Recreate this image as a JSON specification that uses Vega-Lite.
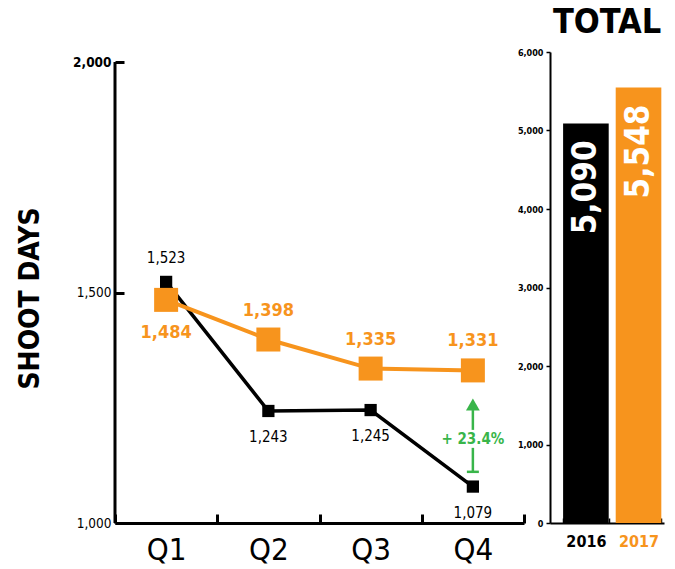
{
  "$schema": "https://vega.github.io/schema/vega-lite/v6.json",
  "background": "white",
  "padding": {"left": 16, "top": 6, "right": 5, "bottom": 5},
  "bounds": "flush",
  "spacing": 26,
  "config": {
    "view": {"stroke": null},
    "font": "DejaVu Sans Condensed, Roboto, sans-serif",
    "axis": {"grid": false, "domainColor": "black", "tickColor": "black", "labelColor": "black", "titleColor": "black", "labelFont": "DejaVu Sans Condensed, Roboto, sans-serif", "titleFont": "DejaVu Sans Condensed, Roboto, sans-serif"},
    "title": {"font": "DejaVu Sans Condensed, Roboto, sans-serif"}
  },
  "datasets": {
    "quarters": [
      {"q": "Q1", "year": "2016", "days": 1523},
      {"q": "Q2", "year": "2016", "days": 1243},
      {"q": "Q3", "year": "2016", "days": 1245},
      {"q": "Q4", "year": "2016", "days": 1079},
      {"q": "Q1", "year": "2017", "days": 1484},
      {"q": "Q2", "year": "2017", "days": 1398},
      {"q": "Q3", "year": "2017", "days": 1335},
      {"q": "Q4", "year": "2017", "days": 1331}
    ],
    "totals": [
      {"year": "2016", "total": 5090},
      {"year": "2017", "total": 5548}
    ],
    "axisline": [{"q": "Q1", "lo": 1000, "hi": 2000}],
    "segments": [
      {"q": "Q4", "from": 1111, "to": 1163},
      {"q": "Q4", "from": 1202, "to": 1245}
    ],
    "tbar": [{"q": "Q4", "v": 1111}],
    "arrow": [{"q": "Q4", "v": 1257}],
    "note": [{"q": "Q4", "v": 1182, "label": "+ 23.4%"}]
  },
  "hconcat": [
    {
      "width": 409,
      "height": 471,
      "layer": [
        {
          "data": {"name": "axisline"},
          "mark": {"type": "rule", "color": "black", "strokeWidth": 3},
          "encoding": {
            "x": {"field": "q", "type": "nominal", "bandPosition": 0},
            "y": {"field": "lo", "type": "quantitative"},
            "y2": {"field": "hi"}
          }
        },
        {
          "data": {"name": "quarters"},
          "transform": [{"filter": "datum.year == '2016'"}],
          "mark": {"type": "line", "color": "black", "strokeWidth": 3.5},
          "encoding": {
            "x": {"field": "q", "type": "nominal"},
            "y": {"field": "days", "type": "quantitative"}
          }
        },
        {
          "data": {"name": "quarters"},
          "transform": [{"filter": "datum.year == '2016'"}],
          "mark": {"type": "point", "shape": "square", "filled": true, "opacity": 1, "color": "black", "size": 150},
          "encoding": {
            "x": {"field": "q", "type": "nominal"},
            "y": {"field": "days", "type": "quantitative"}
          }
        },
        {
          "data": {"name": "quarters"},
          "transform": [{"filter": "datum.year == '2017'"}],
          "mark": {"type": "line", "color": "#F7941D", "strokeWidth": 4},
          "encoding": {
            "x": {"field": "q", "type": "nominal"},
            "y": {"field": "days", "type": "quantitative"}
          }
        },
        {
          "data": {"name": "quarters"},
          "transform": [{"filter": "datum.year == '2017'"}],
          "mark": {"type": "point", "shape": "square", "filled": true, "opacity": 1, "color": "#F7941D", "size": 576},
          "encoding": {
            "x": {"field": "q", "type": "nominal"},
            "y": {"field": "days", "type": "quantitative"}
          }
        },
        {
          "data": {"name": "quarters"},
          "transform": [{"filter": "datum.year == '2016' && datum.q == 'Q1'"}],
          "mark": {"type": "text", "fontSize": 15, "color": "black", "dy": -24, "baseline": "middle"},
          "encoding": {
            "x": {"field": "q", "type": "nominal"},
            "y": {"field": "days", "type": "quantitative"},
            "text": {"field": "days", "format": ",.0f"}
          }
        },
        {
          "data": {"name": "quarters"},
          "transform": [{"filter": "datum.year == '2016' && datum.q != 'Q1'"}],
          "mark": {"type": "text", "fontSize": 15, "color": "black", "dy": 26, "baseline": "middle"},
          "encoding": {
            "x": {"field": "q", "type": "nominal"},
            "y": {"field": "days", "type": "quantitative"},
            "text": {"field": "days", "format": ",.0f"}
          }
        },
        {
          "data": {"name": "quarters"},
          "transform": [{"filter": "datum.year == '2017' && datum.q == 'Q1'"}],
          "mark": {"type": "text", "fontSize": 18, "fontWeight": "bold", "color": "#F7941D", "dy": 33, "baseline": "middle"},
          "encoding": {
            "x": {"field": "q", "type": "nominal"},
            "y": {"field": "days", "type": "quantitative"},
            "text": {"field": "days", "format": ",.0f"}
          }
        },
        {
          "data": {"name": "quarters"},
          "transform": [{"filter": "datum.year == '2017' && datum.q != 'Q1'"}],
          "mark": {"type": "text", "fontSize": 18, "fontWeight": "bold", "color": "#F7941D", "dy": -29, "baseline": "middle"},
          "encoding": {
            "x": {"field": "q", "type": "nominal"},
            "y": {"field": "days", "type": "quantitative"},
            "text": {"field": "days", "format": ",.0f"}
          }
        },
        {
          "data": {"name": "segments"},
          "mark": {"type": "rule", "color": "#39B54A", "strokeWidth": 2.5},
          "encoding": {
            "x": {"field": "q", "type": "nominal"},
            "y": {"field": "from", "type": "quantitative"},
            "y2": {"field": "to"}
          }
        },
        {
          "data": {"name": "tbar"},
          "mark": {"type": "tick", "color": "#39B54A", "size": 12, "thickness": 2.5, "orient": "horizontal", "opacity": 1},
          "encoding": {
            "x": {"field": "q", "type": "nominal"},
            "y": {"field": "v", "type": "quantitative"}
          }
        },
        {
          "data": {"name": "arrow"},
          "mark": {"type": "point", "shape": "triangle-up", "filled": true, "opacity": 1, "color": "#39B54A", "size": 190},
          "encoding": {
            "x": {"field": "q", "type": "nominal"},
            "y": {"field": "v", "type": "quantitative"}
          }
        },
        {
          "data": {"name": "note"},
          "mark": {"type": "text", "fontSize": 15, "fontWeight": "bold", "color": "#39B54A", "baseline": "middle"},
          "encoding": {
            "x": {"field": "q", "type": "nominal"},
            "y": {"field": "v", "type": "quantitative"},
            "text": {"field": "label"}
          }
        }
      ],
      "resolve": {"scale": {"x": "shared", "y": "shared"}},
      "encoding": {
        "x": {
          "field": "q",
          "type": "nominal",
          "scale": {"type": "band", "domain": ["Q1", "Q2", "Q3", "Q4"], "paddingInner": 0, "paddingOuter": 0},
          "axis": {
            "title": null,
            "labelAngle": 0,
            "labelFontSize": 31,
            "labelPadding": 21,
            "domainWidth": 3,
            "tickWidth": 3,
            "tickSize": -9,
            "tickBand": "extent"
          }
        },
        "y": {
          "field": "days",
          "type": "quantitative",
          "scale": {"domain": [1000, 2021.7], "nice": false, "zero": false},
          "axis": {
            "values": [1000, 1500, 2000],
            "format": ",.0f",
            "domain": false,
            "title": "SHOOT DAYS",
            "titleFontSize": 28,
            "titleFontWeight": "bold",
            "titlePadding": 28,
            "titleY": 246,
            "labelFontSize": 13.5,
            "labelFontWeight": {"condition": {"test": "datum.value == 2000", "value": "bold"}, "value": "normal"},
            "labelPadding": 13,
            "tickSize": -9,
            "tickWidth": 3
          }
        }
      }
    },
    {
      "width": 114,
      "height": 471,
      "title": {"text": "TOTAL", "fontSize": 34, "fontWeight": "bold", "anchor": "middle", "offset": 8, "color": "black"},
      "data": {"name": "totals"},
      "encoding": {
        "x": {
          "field": "year",
          "type": "nominal",
          "scale": {"type": "band", "paddingInner": 0.133, "paddingOuter": 0.15, "align": 0.83},
          "axis": {
            "title": null,
            "labelAngle": 0,
            "labelFontSize": 16,
            "labelFontWeight": "bold",
            "labelColor": {"condition": {"test": "datum.value == '2017'", "value": "#F7941D"}, "value": "black"},
            "labelPadding": 15,
            "domainWidth": 2,
            "tickWidth": 1.5,
            "tickSize": -5,
            "tickBand": "extent"
          }
        }
      },
      "layer": [
        {
          "mark": {"type": "bar"},
          "encoding": {
            "y": {
              "field": "total",
              "type": "quantitative",
              "scale": {"domain": [0, 6000], "nice": false},
              "axis": {
                "title": null,
                "values": [0, 1000, 2000, 3000, 4000, 5000, 6000],
                "format": ",.0f",
                "labelFontSize": 9,
                "labelFontWeight": "bold",
                "labelPadding": 3,
                "tickSize": 4,
                "tickWidth": 1.5,
                "domainWidth": 2
              }
            },
            "color": {
              "field": "year",
              "type": "nominal",
              "scale": {"domain": ["2016", "2017"], "range": ["#000000", "#F7941D"]},
              "legend": null
            }
          }
        },
        {
          "mark": {"type": "text", "angle": 270, "align": "right", "baseline": "middle", "dx": -17, "fontSize": 33, "fontWeight": "bold", "color": "white"},
          "encoding": {
            "y": {"field": "total", "type": "quantitative"},
            "text": {"field": "total", "format": ",.0f"}
          }
        }
      ]
    }
  ]
}
